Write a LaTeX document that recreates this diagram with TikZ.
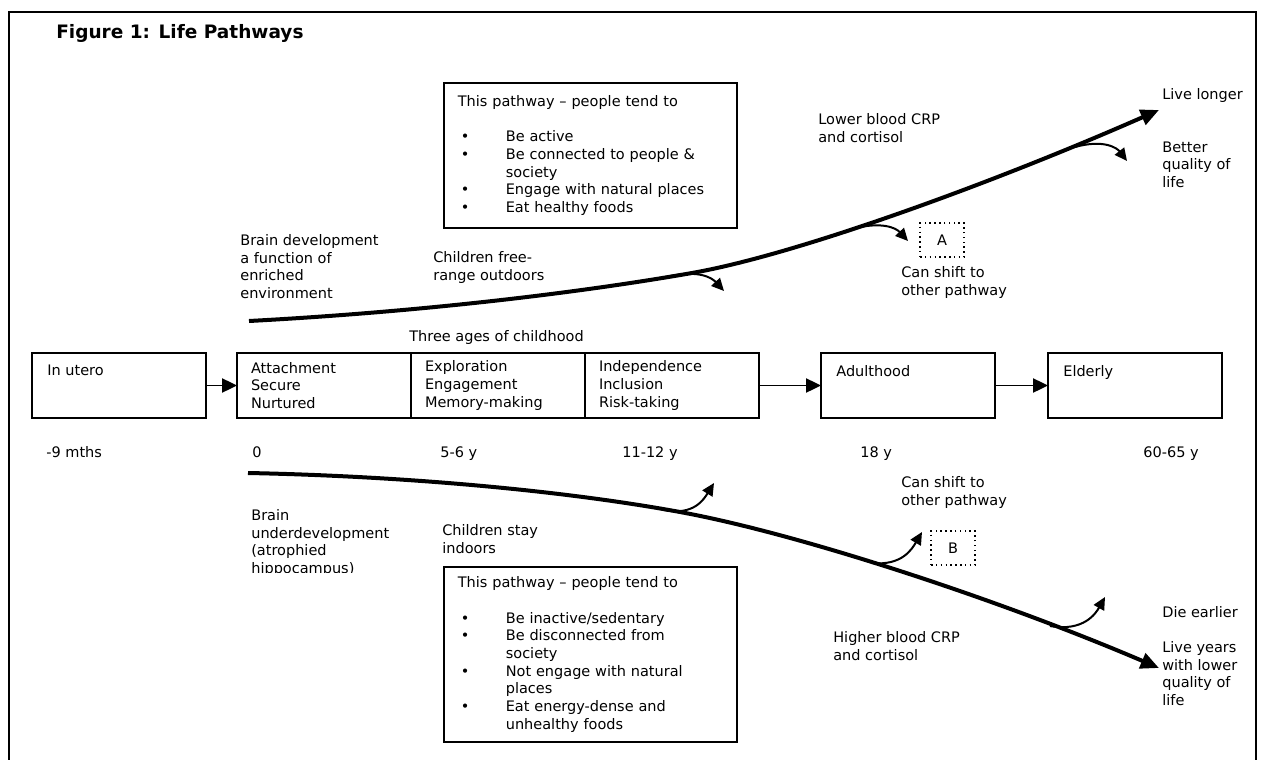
\documentclass[tikz,border=0pt]{standalone}
\usepackage{fontspec}
\setmainfont{DejaVu Sans}
\usetikzlibrary{
  arrows.meta,
  positioning,
}
\newcommand\bodyfont{\fontsize{8.7}{10.6}\selectfont}
\newcommand\figtitlefont{\fontsize{11.1}{13}\selectfont\bfseries}
\newcommand\bul{\makebox[28.8pt][l]{\hspace{1.8pt}\textbullet}}
\newcommand\nobul{\makebox[28.8pt]{}}
\tikzset{
  stage/.style={
    rectangle,
    draw=black,
    line width=1pt,
    outer sep=0pt,
    inner xsep=8.4pt,
    inner ysep=3pt,
    minimum width=104.4pt,
    minimum height=39pt,
    text width=87.6pt,
    align=left,
    font=\bodyfont
  },
  stagelab/.style={
    anchor=north west,
    inner sep=0pt,
    xshift=9pt,
    yshift=-7pt,
    font=\bodyfont
  },
  pathbox/.style={
    rectangle,
    draw=black,
    line width=1pt,
    anchor=north west,
    inner xsep=8.4pt,
    text width=159pt,
    align=left,
    font=\bodyfont
  },
  note/.style={
    anchor=north west,
    inner sep=0pt,
    align=left,
    font=\bodyfont
  },
  shiftbox/.style={
    rectangle,
    draw=black,
    dotted,
    line width=0.9pt,
    minimum width=26.4pt,
    minimum height=20.4pt,
    font=\bodyfont
  },
  flow/.style={
    line width=1.1pt,
    -{Triangle[length=9pt,width=8.5pt]},
  },
  lifeline/.style={
    line width=2.4pt,
    -{Triangle[length=11pt,width=9.5pt]},
  },
  branch/.style={
    line width=1.2pt,
    -{Triangle[length=7.5pt,width=7pt]},
  },
}

\begin{document}
\begin{tikzpicture}[x=0.6pt, y=-0.6pt]

  \useasboundingbox (0,0) rectangle (1261,760);
  \fill[white] (0,0) rectangle (1261,760);

  % Frame and title
  \draw[line width=1.2pt] (9,775) -- (9,12) -- (1256,12) -- (1256,775);
  \node (title) [note, anchor=base west, font=\figtitlefont] at (56,38.8) {Figure 1: Life Pathways};

  % Stages of life
  \node (inutero) [stage, anchor=north west,
    label={[stagelab]north west:In utero}] at (32,353) {};
  \node (attach) [stage, right=18.6pt of inutero] {Attachment\\Secure\\Nurtured};
  \node (explore) [stage, right=0pt of attach] {Exploration\\Engagement\\Memory-making};
  \node (indep) [stage, right=0pt of explore] {Independence\\Inclusion\\Risk-taking};
  \node (adult) [stage, right=37.2pt of indep,
    label={[stagelab]north west:Adulthood}] {};
  \node (elder) [stage, right=31.8pt of adult,
    label={[stagelab]north west:Elderly}] {};
  \node (childhood) [note] at (409,330.3) {Three ages of childhood};

  \draw [flow] (inutero) -- (attach);
  \draw [flow] (indep) -- (adult);
  \draw [flow] (adult) -- (elder);

  % Ages
  \foreach \x/\t [count=\i] in {46/-9 mths, 252/0, 440/5-6 y, 622/11-12 y, 860/18 y, 1143/60-65 y}
    \node (age\i) [note] at (\x,446.3) {\t};

  % Good pathway
  \node (goodbox) [pathbox, inner ysep=7.6pt] at (443,82) {This pathway – people tend to\\[10.6pt]
    \bul Be active\\
    \bul Be connected to people \&\\
    \nobul society\\
    \bul Engage with natural places\\
    \bul Eat healthy foods};
  \node (brainup) [note] at (240,234.3) {Brain development\\a function of\\enriched\\environment};
  \node (outdoors) [note] at (433,251.3) {Children free-\\range outdoors};
  \node (lowcrp) [note] at (818,113.3) {Lower blood CRP\\and cortisol};
  \node (longer) [note] at (1162,88.3) {Live longer};
  \node (better) [note] at (1162,141.3) {Better\\quality of\\life};
  \node (shiftA) [shiftbox] at (942,240) {A};
  \node (canA) [note] at (901,266.3) {Can shift to\\other pathway};

  \coordinate (goodstart) at (249,321);
  \coordinate (goodmid) at (692,273);
  \coordinate (goodend) at (1159,110);
  \draw [lifeline] (goodstart) .. controls (400,313) and (560,296) .. (goodmid)
    .. controls (800,254) and (1000,180) .. (goodend);

  \coordinate (good1) at (670,276);
  \coordinate (good1tip) at (724,291);
  \coordinate (good2) at (852,229);
  \coordinate (good2tip) at (908,241);
  \coordinate (good3) at (1075,147);
  \coordinate (good3tip) at (1127,161);
  \draw [branch] (good1) .. controls (700,270) and (712,278) .. (good1tip);
  \draw [branch] (good2) .. controls (882,221) and (896,228) .. (good2tip);
  \draw [branch] (good3) .. controls (1104,139) and (1117,148) .. (good3tip);

  % Poor pathway
  \node (poorbox) [pathbox, inner ysep=6pt] at (443,566) {This pathway – people tend to\\[10.6pt]
    \bul Be inactive/sedentary\\
    \bul Be disconnected from\\
    \nobul society\\
    \bul Not engage with natural\\
    \nobul places\\
    \bul Eat energy-dense and\\
    \nobul unhealthy foods};
  \begin{scope}
    \clip (240,500) rectangle (440,572);
    \node (braindown) [note] at (251,509.3) {Brain\\underdevelopment\\(atrophied\\hippocampus)};
  \end{scope}
  \node (indoors) [note] at (442,524.3) {Children stay\\indoors};
  \node (highcrp) [note] at (833,631.3) {Higher blood CRP\\and cortisol};
  \node (earlier) [note] at (1162,606.3) {Die earlier};
  \node (lowerq) [note] at (1162,641.3) {Live years\\with lower\\quality of\\life};
  \node (shiftB) [shiftbox] at (953,548) {B};
  \node (canB) [note] at (901,476.3) {Can shift to\\other pathway};

  \coordinate (poorstart) at (248,473);
  \coordinate (poormid) at (680,512);
  \coordinate (poorend) at (1159,668);
  \draw [lifeline] (poorstart) .. controls (400,476) and (560,490) .. (poormid)
    .. controls (800,534) and (1000,600) .. (poorend);

  \coordinate (poor1) at (664,510);
  \coordinate (poor1tip) at (714,483);
  \coordinate (poor2) at (872,563);
  \coordinate (poor2tip) at (922,532);
  \coordinate (poor3) at (1050,626);
  \coordinate (poor3tip) at (1105,597);
  \draw [branch] (poor1) .. controls (694,516) and (704,499) .. (poor1tip);
  \draw [branch] (poor2) .. controls (902,566) and (912,549) .. (poor2tip);
  \draw [branch] (poor3) .. controls (1084,632) and (1096,613) .. (poor3tip);

\end{tikzpicture}
\end{document}
